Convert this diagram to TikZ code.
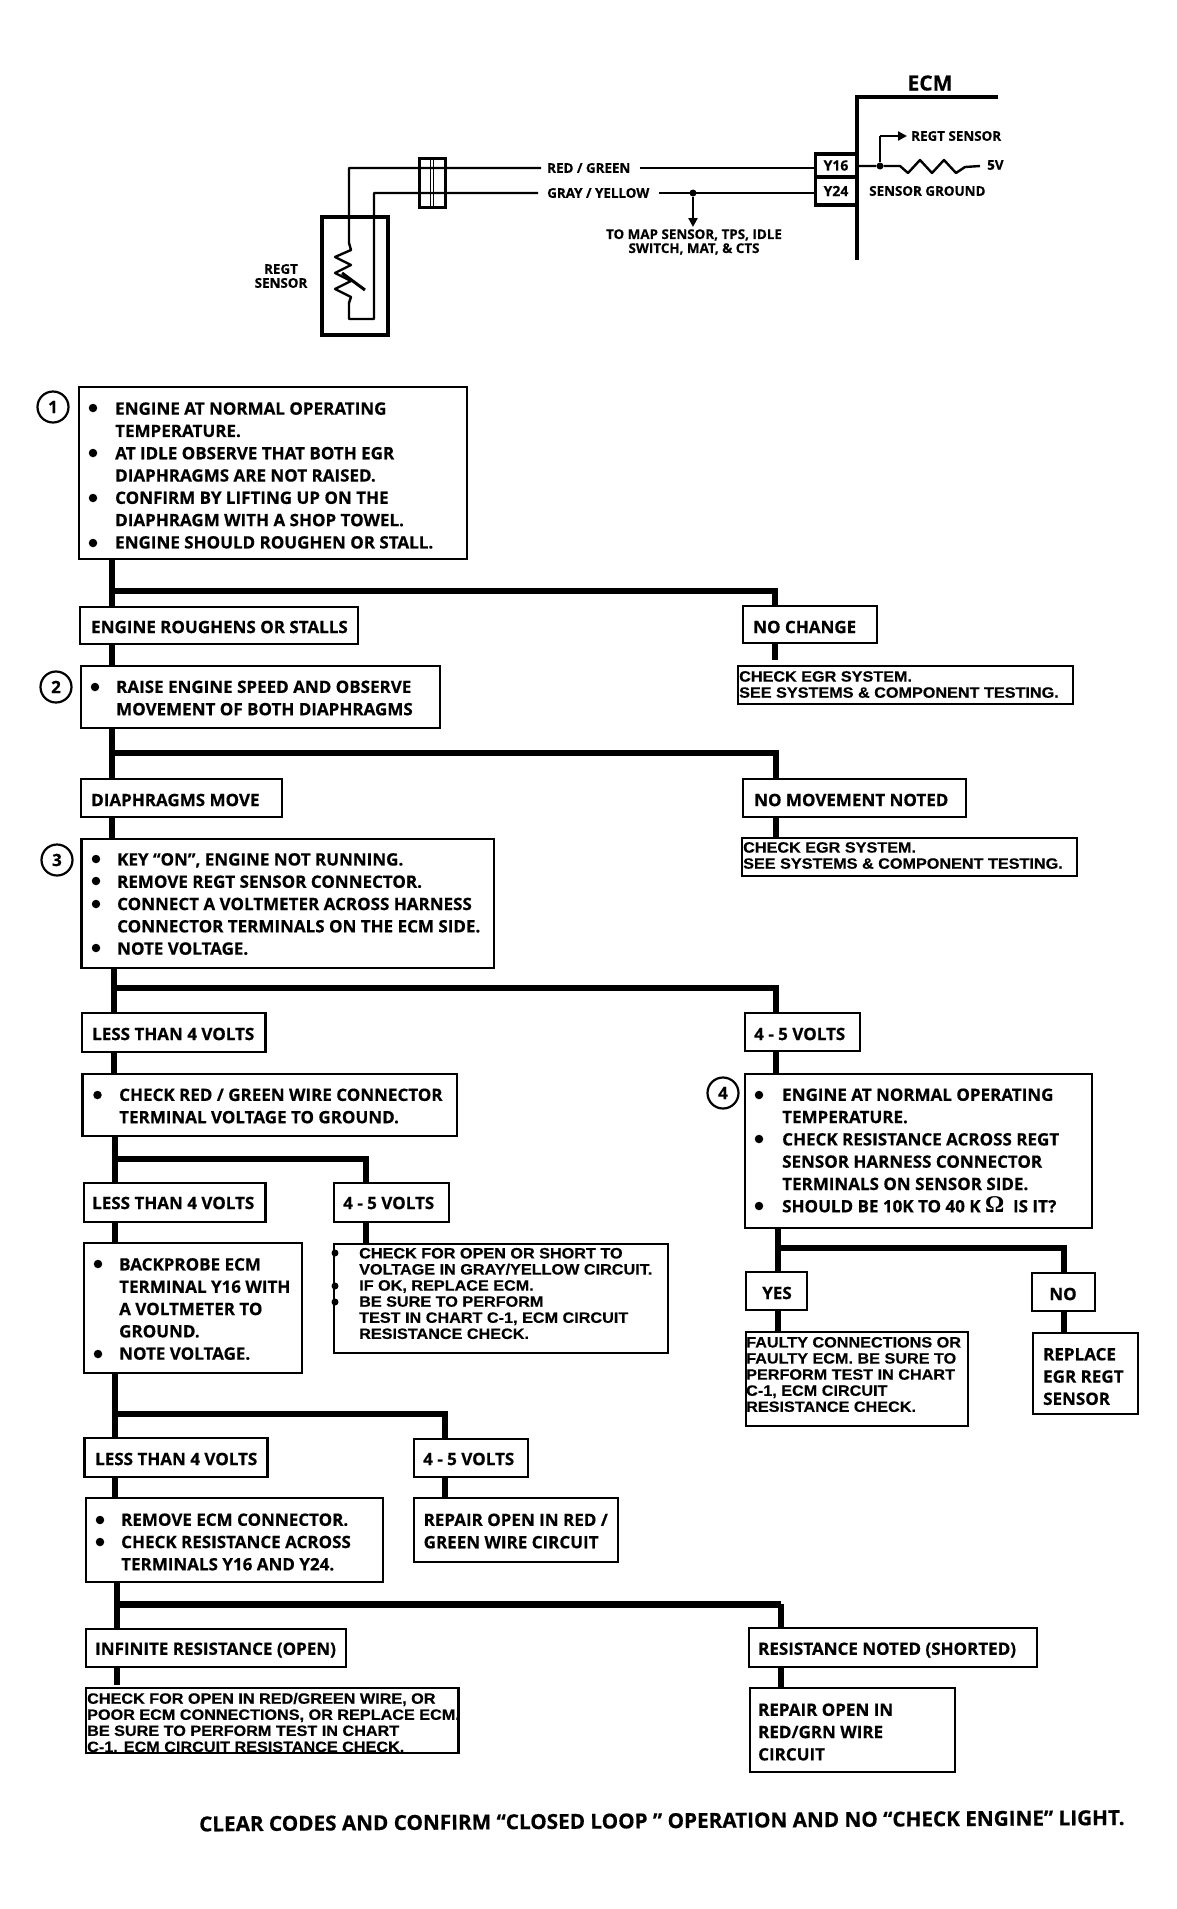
\documentclass[tikz,border=0pt]{standalone}
\usepackage{fontspec}
\setmainfont{Open Sans}[BoldFeatures={FakeBold=0.5}]
\newfontfamily\helv{Liberation Sans}[FakeStretch=1.08,BoldFeatures={FakeBold=0.4}]
\newfontfamily\omegafont{Liberation Serif}
\usetikzlibrary{arrows.meta,calc}
\tikzset{
  boxn/.style={draw=black,line width=2.2pt,fill=white,inner sep=0pt,outer sep=0pt},
  trunk/.style={line width=6pt,draw=black},
  wire/.style={line width=2.4pt,draw=black,line join=round},
  wiretip/.style={wire,-{Triangle[length=9pt,width=9pt]}},
  bul/.style={circle,fill=black,inner sep=0pt,minimum size=8.5pt},
  dotn/.style={circle,fill=black,inner sep=0pt,minimum size=7pt},
  num/.style={circle,draw=black,line width=2.2pt,minimum size=31pt,inner sep=0pt,font=\fontsize{17}{17}\selectfont\bfseries},
  tb/.style={anchor=west,inner sep=0pt,align=left,font=\fontsize{17}{22.3}\selectfont\bfseries},
  th/.style={anchor=west,inner sep=0pt,align=left,font=\helv\fontsize{15}{16.1}\selectfont\bfseries},
  small/.style={inner sep=0pt,align=center,font=\fontsize{13.4}{14}\selectfont\bfseries},
  term/.style={boxn,line width=3.5pt,minimum width=41pt,font=\fontsize{14}{14}\selectfont\bfseries},
}
\newcommand{\bx}[5]{\node[boxn,minimum width={(#4-#2)*1pt},minimum height={(#5-#3)*1pt}] (#1) at ({(#2+#4)/2},{(#3+#5)/2}) {};}
\begin{document}
\begin{tikzpicture}[x=1pt,y=-1pt]
\useasboundingbox (0,0) rectangle (1177,1909);
% ---------- wiring diagram ----------
\node[font=\fontsize{21}{21}\selectfont\bfseries,inner sep=0pt] (ecm) at (930,83) {ECM};
\coordinate (ecmr) at (998,97);
\coordinate (ecmc) at (857,97);
\coordinate (ecmb) at (857,260);
\draw[line width=4.5pt,line cap=butt] (ecmr) -- (ecmc) -- (ecmb);
\node[term,minimum height=23pt] (y16) at (836,165.5) {Y16};
\node[term,minimum height=28pt] (y24) at (836,191) {Y24};
\node[small,anchor=west] (rg) at (547,168) {RED / GREEN};
\node[small,anchor=west] (gy) at (547,193) {GRAY / YELLOW};
\node[small] (map) at (694,242) {TO MAP SENSOR, TPS, IDLE\\SWITCH, MAT, \& CTS};
\node[small,anchor=west] (rs2) at (911,136) {REGT SENSOR};
\node[small,anchor=west] (sg) at (869,191) {SENSOR GROUND};
\node[small,anchor=west] (fv) at (987,165) {5V};
\node[small] (rs1) at (281,276) {REGT\\SENSOR};
% sensor
\bx{sens}{322}{217}{388}{335}
\draw[line width=4pt] (sens.south west) rectangle (sens.north east);
\coordinate (w1) at (349,168);
\coordinate (w2) at (374,193);
\draw[wire] ($(rg.west)+(-6,0)$) -- (w1) -- (349,243) -- (351,250) -- (335,257) -- (351,265) -- (335,273) -- (351,281) -- (335,289) -- (351,297) -- (349,303) -- (349,319) -- (374,319) -- (w2) -- ($(gy.west)+(-9,0)$);
\draw[wire] ($(rg.east)+(9,0)$) -- (rg.east -| y16.west);
\draw[wire] ($(gy.east)+(10,0)$) -- (gy.east -| y24.west);
\draw[wire,line width=3pt] (342,273) -- (365,290);
% inline connector
\node[draw=black,line width=3pt,minimum width=26pt,minimum height=49pt,inner sep=0pt] (conn) at (432,182.5) {};
\draw[line width=1.6pt] ([xshift=-1.6pt]conn.north) -- ([xshift=-1.6pt]conn.south);
\draw[line width=1.6pt] ([xshift=1.6pt]conn.north) -- ([xshift=1.6pt]conn.south);
% branch to map
\node[dotn] (d1) at (693,193) {};
\coordinate (a1) at (693,227);
\draw[wiretip] (d1) -- (a1);
% resistor
\node[dotn] (d2) at (880,166) {};
\draw[wire] (y16.east |- d2) -- (d2) -- (900,166) -- (908,173) -- (920,160) -- (932,173) -- (944,160) -- (956,173) -- (965,167) -- (980,166);
\coordinate (a2c) at (880,136);
\coordinate (a2) at (907,136);
\draw[wire] (d2) -- (a2c);
\draw[wiretip] (a2c) -- (a2);
% ---------- boxes ----------
\bx{b1}{79}{387}{467}{559}
\bx{e1}{80}{607}{358}{644}
\bx{nc}{743}{606}{877}{643}
\bx{c1}{738}{666}{1073}{704}
\bx{b2}{81}{666}{440}{728}
\bx{dm}{81}{779}{282}{817}
\bx{nm}{743}{779}{966}{817}
\bx{c2}{742}{838}{1077}{876}
\bx{b3}{81.5}{839}{494}{968}
\bx{l1}{82}{1013}{265.5}{1052}
\bx{v1}{745}{1013}{860}{1051}
\bx{b5}{82.5}{1074}{457}{1136}
\bx{b4}{745}{1074}{1092}{1228}
\bx{l2}{84}{1183}{265.5}{1222}
\bx{v2}{334}{1183}{449}{1222}
\bx{b6}{84}{1243}{302}{1373}
\bx{c3}{334}{1244}{668}{1353}
\bx{yes}{746}{1272}{807}{1310}
\bx{no}{1032}{1273}{1095}{1311}
\bx{f1}{746}{1332}{968}{1426}
\bx{r1}{1033}{1333}{1138}{1414}
\bx{l3}{84.5}{1438}{267.5}{1477}
\bx{v3}{414}{1439}{528}{1477}
\bx{b7}{86}{1498}{383}{1582}
\bx{r2}{414}{1498}{618}{1562}
\bx{inf}{86}{1629}{346}{1667}
\bx{sh}{749}{1628}{1037}{1667}
\bx{c4}{86}{1688}{458.5}{1753}
\bx{r3}{750}{1688}{955}{1772}
% ---------- connectors ----------
\coordinate (j1) at (112,591); \coordinate (k1) at (775,591);
\draw[trunk] (j1 |- b1.south) -- (j1 |- e1.north);
\draw[trunk] (j1) -- (k1) -- (k1 |- nc.north);
\draw[trunk] (j1 |- e1.south) -- (j1 |- b2.north);
\draw[trunk] (k1 |- nc.south) -- (775,660);
\coordinate (j2) at (112,753); \coordinate (k2) at (776,753);
\draw[trunk] (j2 |- b2.south) -- (j2 |- dm.north);
\draw[trunk] (j2) -- (k2) -- (k2 |- nm.north);
\draw[trunk] (j2 |- dm.south) -- (j2 |- b3.north);
\draw[trunk] (k2 |- nm.south) -- (k2 |- c2.north);
\coordinate (j3) at (113.5,988); \coordinate (k3) at (776,988);
\draw[trunk] (j3 |- b3.south) -- (j3 |- l1.north);
\draw[trunk] (j3) -- (k3) -- (k3 |- v1.north);
\draw[trunk] (j3 |- l1.south) -- (j3 |- b5.north);
\draw[trunk] (k3 |- v1.south) -- (k3 |- b4.north);
\coordinate (j4) at (114.5,1159); \coordinate (k4) at (366,1159);
\draw[trunk] (j4 |- b5.south) -- (j4 |- l2.north);
\draw[trunk] (j4) -- (k4) -- (k4 |- v2.north);
\draw[trunk] (j4 |- l2.south) -- (j4 |- b6.north);
\draw[trunk] (k4 |- v2.south) -- (k4 |- c3.north);
\coordinate (j5) at (115,1414); \coordinate (k5) at (445,1414);
\draw[trunk] (j5 |- b6.south) -- (j5 |- l3.north);
\draw[trunk] (j5) -- (k5) -- (k5 |- v3.north);
\draw[trunk] (j5 |- l3.south) -- (j5 |- b7.north);
\draw[trunk] (k5 |- v3.south) -- (k5 |- r2.north);
\coordinate (j6) at (117,1604); \coordinate (k6) at (781,1604);
\draw[trunk] (j6 |- b7.south) -- (j6 |- inf.north);
\draw[trunk,line width=7pt] (j6) -- (k6);
\draw[trunk] (k6) -- (k6 |- sh.north);
\draw[trunk] (j6 |- inf.south) -- (117,1685);
\draw[trunk] (k6 |- sh.south) -- (k6 |- r3.north);
\coordinate (j7) at (778,1248); \coordinate (k7) at (1064,1248);
\draw[trunk] (j7 |- b4.south) -- (j7 |- yes.north);
\draw[trunk] (j7) -- (k7) -- (k7 |- no.north);
\draw[trunk] (j7 |- yes.south) -- (j7 |- f1.north);
\draw[trunk] (k7 |- no.south) -- (k7 |- r1.north);
% ---------- numbers ----------
\node[num] (n1) at (53,407) {1};
\node[num] (n2) at (56,687) {2};
\node[num] (n3) at (57,860) {3};
\node[num] (n4) at (723,1093) {4};
% ---------- bullets ----------
\foreach \nm/\xx/\yy in {a/93/408,b/93/453,c/93/498,d/93/543,e/95/687,f/96/859,g/96/881,h/96/904,j/96/948,k/97.5/1095,l/98/1264,m/98/1354,n/100/1520,o/100/1542,p/759/1095,q/759/1139,r/759/1206}
  \node[bul] (bu\nm) at (\xx,\yy) {};
\foreach \nm/\yy in {a/1253,b/1286,c/1302}
  \node[bul,minimum size=7pt] (bv\nm) at (335,\yy) {};
% ---------- texts ----------
\node[tb] (t1) at (115,475.5) {ENGINE AT NORMAL OPERATING\\TEMPERATURE.\\AT IDLE OBSERVE THAT BOTH EGR\\DIAPHRAGMS ARE NOT RAISED.\\CONFIRM BY LIFTING UP ON THE\\DIAPHRAGM WITH A SHOP TOWEL.\\ENGINE SHOULD ROUGHEN OR STALL.};
\node[tb] (t2) at (91,627) {ENGINE ROUGHENS OR STALLS};
\node[tb] (t3) at (753,627) {NO CHANGE};
\node[th] (t4) at (739,684.5) {CHECK EGR SYSTEM.\\SEE SYSTEMS \& COMPONENT TESTING.};
\node[tb] (t5) at (116,698) {RAISE ENGINE SPEED AND OBSERVE\\MOVEMENT OF BOTH DIAPHRAGMS};
\node[tb] (t6) at (91,800) {DIAPHRAGMS MOVE};
\node[tb] (t7) at (754,800) {NO MOVEMENT NOTED};
\node[th] (t8) at (743,855.5) {CHECK EGR SYSTEM.\\SEE SYSTEMS \& COMPONENT TESTING.};
\node[tb] (t9) at (117,904) {KEY ``ON'', ENGINE NOT RUNNING.\\REMOVE REGT SENSOR CONNECTOR.\\CONNECT A VOLTMETER ACROSS HARNESS\\CONNECTOR TERMINALS ON THE ECM SIDE.\\NOTE VOLTAGE.};
\node[tb] (t10) at (92,1034) {LESS THAN 4 VOLTS};
\node[tb] (t11) at (754,1034) {4 - 5 VOLTS};
\node[tb] (t12) at (119,1106) {CHECK RED / GREEN WIRE CONNECTOR\\TERMINAL VOLTAGE TO GROUND.};
\node[tb] (t13) at (782,1150.5) {ENGINE AT NORMAL OPERATING\\TEMPERATURE.\\CHECK RESISTANCE ACROSS REGT\\SENSOR HARNESS CONNECTOR\\TERMINALS ON SENSOR SIDE.\\SHOULD BE 10K TO 40 K {\omegafont\fontsize{24}{22.3}\selectfont Ω}\ \ IS IT?};
\node[tb] (t14) at (92,1203) {LESS THAN 4 VOLTS};
\node[tb] (t15) at (343,1203) {4 - 5 VOLTS};
\node[tb] (t16) at (119,1309) {BACKPROBE ECM\\TERMINAL Y16 WITH\\A VOLTMETER TO\\GROUND.\\NOTE VOLTAGE.};
\node[th] (t17) at (359,1293.5) {CHECK FOR OPEN OR SHORT TO\\VOLTAGE IN GRAY/YELLOW CIRCUIT.\\IF OK, REPLACE ECM.\\BE SURE TO PERFORM\\TEST IN CHART C-1, ECM CIRCUIT\\RESISTANCE CHECK.};
\node[inner sep=0pt,font=\fontsize{17}{17}\selectfont\bfseries] (t18) at (777,1293) {YES};
\node[inner sep=0pt,font=\fontsize{17}{17}\selectfont\bfseries] (t19) at (1063,1294) {NO};
\node[th] (t20) at (746,1374.5) {FAULTY CONNECTIONS OR\\FAULTY ECM. BE SURE TO\\PERFORM TEST IN CHART\\C-1, ECM CIRCUIT\\RESISTANCE CHECK.};
\node[tb] (t21) at (1043,1376.5) {REPLACE\\EGR REGT\\SENSOR};
\node[tb] (t22) at (95,1459) {LESS THAN 4 VOLTS};
\node[tb] (t23) at (423,1459) {4 - 5 VOLTS};
\node[tb] (t24) at (121,1542) {REMOVE ECM CONNECTOR.\\CHECK RESISTANCE ACROSS\\TERMINALS Y16 AND Y24.};
\node[tb] (t25) at (423.5,1531) {REPAIR OPEN IN RED /\\GREEN WIRE CIRCUIT};
\node[tb] (t26) at (95,1650) {INFINITE RESISTANCE (OPEN)};
\node[tb] (t27) at (758,1650) {RESISTANCE NOTED (SHORTED)};
\node[th] (t28) at (87,1722.5) {CHECK FOR OPEN IN RED/GREEN WIRE, OR\\POOR ECM CONNECTIONS, OR REPLACE ECM.\\BE SURE TO PERFORM TEST IN CHART\\C-1. ECM CIRCUIT RESISTANCE CHECK.};
\node[tb] (t29) at (758,1732) {REPAIR OPEN IN\\RED/GRN WIRE\\CIRCUIT};
\node[inner sep=0pt,anchor=west,rotate=0.4,font=\fontsize{20.7}{20.7}\selectfont\bfseries] (foot) at (199,1824) {CLEAR CODES AND CONFIRM ``CLOSED LOOP '' OPERATION AND NO ``CHECK ENGINE'' LIGHT.};
\end{tikzpicture}
\end{document}
